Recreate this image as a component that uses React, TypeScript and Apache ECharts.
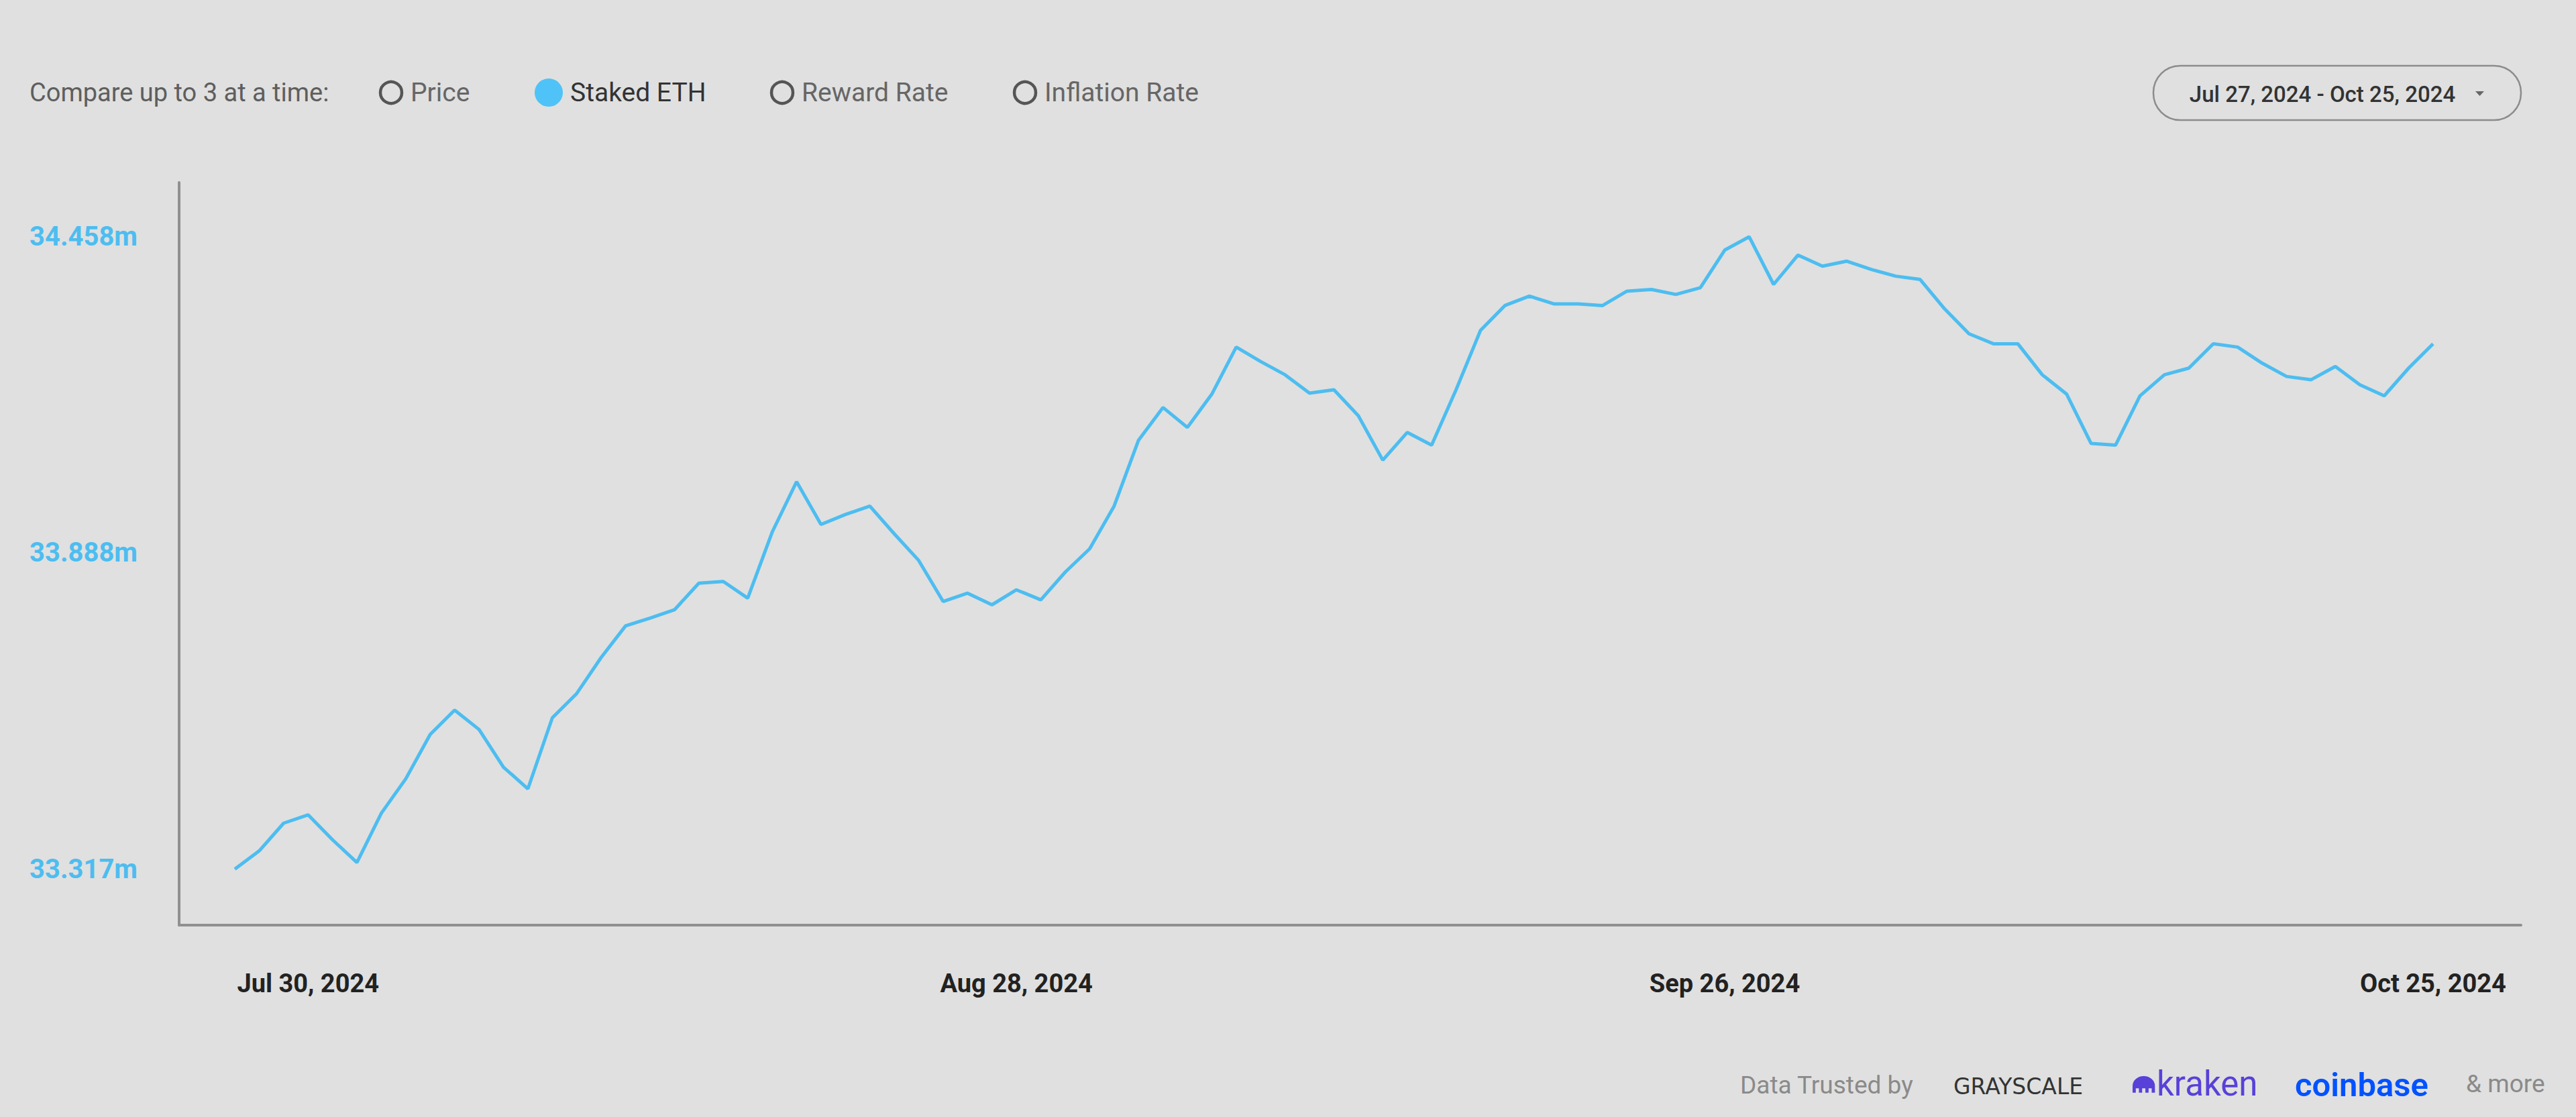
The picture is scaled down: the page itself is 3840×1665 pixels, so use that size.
import React, { useEffect, useRef } from "react";
import * as echarts from "echarts";

const legendItems = ["Price", "Staked ETH", "Reward Rate", "Inflation Rate"];
const activeLegend = "Staked ETH";
const dateRangeLabel = "Jul 27, 2024 - Oct 25, 2024";
const xTickIndices = [3, 32, 61, 90];
const xTickLabels = ["Jul 30, 2024", "Aug 28, 2024", "Sep 26, 2024", "Oct 25, 2024"];
const yTickValues = [33.317, 33.888, 34.458];

// Staked ETH (millions), daily Jul 27, 2024 -> Oct 25, 2024
const stakedEth = [
  33.317, 33.35, 33.4, 33.415, 33.37, 33.329, 33.418, 33.48, 33.56, 33.604,
  33.569, 33.501, 33.462, 33.59, 33.634, 33.699, 33.756, 33.77, 33.785, 33.833,
  33.836, 33.806, 33.925, 34.016, 33.939, 33.957, 33.972, 33.922, 33.874, 33.8,
  33.815, 33.794, 33.821, 33.803, 33.853, 33.895, 33.972, 34.091, 34.15, 34.114,
  34.174, 34.259, 34.233, 34.209, 34.176, 34.182, 34.135, 34.055, 34.105, 34.082,
  34.182, 34.289, 34.334, 34.351, 34.337, 34.337, 34.334, 34.36, 34.363, 34.354,
  34.366, 34.434, 34.458, 34.372, 34.425, 34.405, 34.414, 34.399, 34.387, 34.381,
  34.328, 34.283, 34.265, 34.265, 34.209, 34.174, 34.085, 34.082, 34.171, 34.209,
  34.221, 34.265, 34.259, 34.23, 34.206, 34.2, 34.224, 34.191, 34.171, 34.221,
  34.265,
];

const footerLabel = "Data Trusted by";
const partners = ["GRAYSCALE", "kraken", "coinbase", "& more"];

const BLUE = "#4dbdf0";
const FONT = "Roboto, 'Noto Sans', sans-serif";

let registered = false;
function registerShapes() {
  if (registered) return;
  registered = true;
  const d =
    "M0 15 L0 9 A9 9 0 0 1 18 9 L18 15 L15.4 15 L15.4 11 L12.9 11 L12.9 15 L10.3 15 L10.3 11 L7.7 11 L7.7 15 L5.1 15 L5.1 11 L2.6 11 L2.6 15 Z";
  echarts.graphic.registerShape("krakenLogo", echarts.graphic.extendPath(d, {}));
}

export default function App() {
  const ref = useRef<HTMLDivElement>(null);
  useEffect(() => {
    if (!ref.current) return;
    registerShapes();
    const chart = echarts.init(ref.current, undefined, { renderer: "svg" });

    const legendX = [44, 583, 818, 1166, 1528];
    const headerY = 138;
    const graphic: any[] = [
      {
        type: "text",
        style: {
          text: "Compare up to 3 at a time:",
          x: legendX[0],
          y: headerY,
          fill: "#5e5e5e",
          fontSize: 38,
          fontFamily: FONT,
          align: "left",
          verticalAlign: "middle",
        },
      },
    ];
    legendItems.forEach((name, i) => {
      const cx = legendX[i + 1];
      const active = name === activeLegend;
      graphic.push(
        active
          ? { type: "circle", shape: { cx, cy: headerY, r: 21 }, style: { fill: "#4fc3f7" } }
          : {
              type: "circle",
              shape: { cx, cy: headerY, r: 16 },
              style: { fill: "none", stroke: "#555555", lineWidth: 4.5 },
            }
      );
      graphic.push({
        type: "text",
        style: {
          text: name,
          x: cx + (active ? 32 : 29),
          y: headerY,
          fill: active ? "#333333" : "#666666",
          fontSize: 39,
          fontFamily: FONT,
          align: "left",
          verticalAlign: "middle",
        },
      });
    });
    graphic.push(
      {
        type: "rect",
        shape: { x: 3210, y: 98, width: 548, height: 81, r: 40 },
        style: { fill: "none", stroke: "#8c8c8c", lineWidth: 2.5 },
      },
      {
        type: "text",
        style: {
          text: dateRangeLabel,
          x: 3462,
          y: 140,
          fill: "#333333",
          fontSize: 33,
          fontWeight: 500,
          fontFamily: FONT,
          align: "center",
          verticalAlign: "middle",
        },
      },
      {
        type: "polygon",
        shape: { points: [[3690, 136], [3703, 136], [3696.5, 143]] },
        style: { fill: "#666666" },
      }
    );
    const fy = 1617;
    graphic.push(
      {
        type: "text",
        style: { text: footerLabel, x: 2594, y: fy, fill: "#8a8a8a", fontSize: 37, fontFamily: FONT, align: "left", verticalAlign: "middle" },
      },
      {
        type: "text",
        style: { text: partners[0], x: 2912, y: fy + 2, fill: "#333333", fontSize: 33, fontWeight: 500, fontFamily: "'DejaVu Sans', sans-serif", align: "left", verticalAlign: "middle" },
      },
      {
        type: "krakenLogo",
        x: 3179,
        y: 1604,
        scaleX: 1.85,
        scaleY: 1.65,
        style: { fill: "#5741d9" },
      },
      {
        type: "text",
        style: { text: partners[1], x: 3215, y: fy - 2, fill: "#5741d9", fontSize: 51, fontFamily: FONT, align: "left", verticalAlign: "middle" },
      },
      {
        type: "text",
        style: { text: partners[2], x: 3421, y: fy, fill: "#0052ff", fontSize: 49, fontWeight: 600, fontFamily: FONT, align: "left", verticalAlign: "middle" },
      },
      {
        type: "text",
        style: { text: partners[3], x: 3676, y: fy - 2, fill: "#8a8a8a", fontSize: 37, fontFamily: FONT, align: "left", verticalAlign: "middle" },
      }
    );

    chart.setOption({
      animation: false,
      backgroundColor: "#e0e0e0",
      grid: { left: 267, right: 82, top: 272, bottom: 286, containLabel: false, outerBoundsMode: "none" },
      xAxis: {
        type: "value",
        min: -2.28,
        max: 93.6,
        axisLine: { show: true, onZero: false, lineStyle: { color: "#909090", width: 4 } },
        axisTick: { show: false },
        splitLine: { show: false },
        axisLabel: {
          customValues: xTickIndices,
          formatter: (v: number) => {
            const k = xTickIndices.indexOf(Math.round(v));
            return k >= 0 ? xTickLabels[k] : "";
          },
          margin: 68,
          color: "#222222",
          fontSize: 38,
          lineHeight: 38,
          fontWeight: "bold",
          fontFamily: FONT,
        },
      },
      yAxis: {
        type: "value",
        min: 33.216,
        max: 34.556,
        axisLine: { show: true, onZero: false, lineStyle: { color: "#909090", width: 4 } },
        axisTick: { show: false },
        splitLine: { show: false },
        axisLabel: {
          customValues: yTickValues,
          formatter: (v: number) => v.toFixed(3) + "m",
          align: "left",
          margin: 223,
          color: BLUE,
          fontSize: 40,
          fontWeight: "bold",
          fontFamily: FONT,
        },
      },
      series: [
        {
          type: "line",
          name: activeLegend,
          data: stakedEth.map((v, i) => [i, v]),
          showSymbol: false,
          symbol: "none",
          lineStyle: { color: BLUE, width: 5 },
          itemStyle: { color: BLUE },
        },
      ],
      graphic,
    });
    return () => chart.dispose();
  }, []);
  return (
    <div
      ref={ref}
      style={{ position: "fixed", left: 0, top: 0, width: 3840, height: 1665, background: "#e0e0e0" }}
    />
  );
}
